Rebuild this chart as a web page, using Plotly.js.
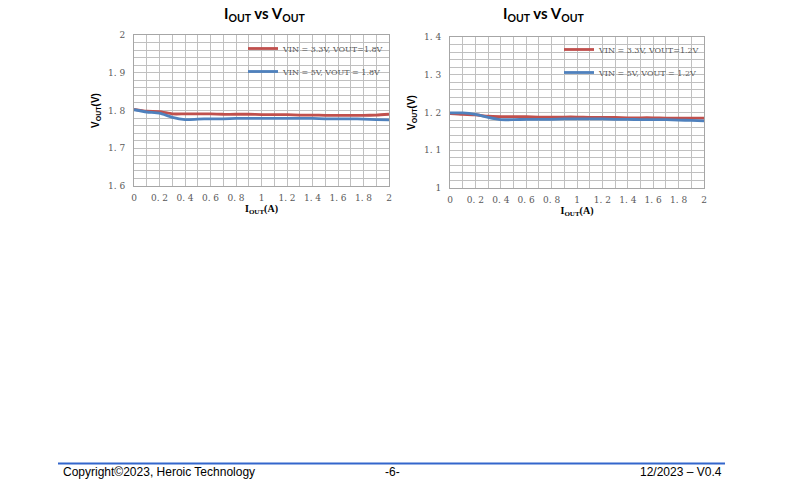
<!DOCTYPE html>
<html>
<head>
<meta charset="utf-8">
<script src="https://cdn.plot.ly/plotly-3.0.1.min.js"></script>
<style>html,body{margin:0;padding:0;background:#fff;}#chart{width:786px;height:485px;}</style>
</head>
<body>
<div id="chart"></div>
<script>
// ---- data ----
const iout = [0,0.1,0.2,0.3,0.4,0.5,0.6,0.7,0.8,0.9,1.0,1.1,1.2,1.3,1.4,1.5,1.6,1.7,1.8,1.9,2.0];

const v18_vin33 = [1.803,1.798,1.797,1.791,1.791,1.791,1.791,1.790,1.790,1.790,1.789,1.789,1.789,1.788,1.788,1.787,1.787,1.787,1.787,1.788,1.790];
const v18_vin5  = [1.802,1.796,1.793,1.782,1.776,1.777,1.778,1.778,1.779,1.779,1.779,1.779,1.779,1.779,1.779,1.778,1.778,1.778,1.777,1.776,1.775];

const v12_vin33 = [1.197,1.195,1.194,1.190,1.189,1.189,1.189,1.188,1.188,1.188,1.188,1.187,1.187,1.187,1.186,1.186,1.186,1.185,1.185,1.185,1.185];
const v12_vin5  = [1.199,1.199,1.195,1.187,1.181,1.181,1.182,1.182,1.182,1.183,1.183,1.183,1.183,1.182,1.182,1.181,1.181,1.181,1.180,1.179,1.178];

const names18 = ["VIN = 3.3V, VOUT=1.8V", "VIN = 5V, VOUT = 1.8V"];
const names12 = ["VIN = 3.3V, VOUT=1.2V", "VIN = 5V, VOUT = 1.2V"];

const xTickVals = [0,0.2,0.4,0.6,0.8,1,1.2,1.4,1.6,1.8,2];
const xTickText = ["0","0. 2","0. 4","0. 6","0. 8","1","1. 2","1. 4","1. 6","1. 8","2"];
const y1TickVals = [1.6,1.7,1.8,1.9,2.0];
const y1TickText = ["1. 6","1. 7","1. 8","1. 9","2"];
const y2TickVals = [1.0,1.1,1.2,1.3,1.4];
const y2TickText = ["1","1. 1","1. 2","1. 3","1. 4"];

const chartTitle = "I<sub>OUT</sub> vs V<sub>OUT</sub>";
const xTitle = "I<sub>OUT</sub>(A)";
const yTitle = "V<sub>OUT</sub>(V)";
const footerLeft = "Copyright©2023, Heroic Technology";
const footerMid = "-6-";
const footerRight = "12/2023 – V0.4";

// ---- styling ----
const RED = "#C0504D", BLUE = "#4F81BD";
const GRID = "#c0c0c0";
const tickFont = {family: "DejaVu Serif, Liberation Serif, serif", size: 9, color: "#595959"};
const legFont = {family: "DejaVu Serif, Liberation Serif, serif", size: 8, color: "#595959"};

function tr(y, name, color, xa, ya, leg, grp) {
  return {x: iout, y: y, name: name, type: "scatter", mode: "lines",
    line: {color: color, width: 2.8, shape: "spline", smoothing: 0.6},
    xaxis: xa, yaxis: ya, legend: leg, legendgroup: grp, hoverinfo: "skip"};
}

const data = [
  tr(v18_vin33, names18[0], RED, "x", "y", "legend", "a"),
  tr(v18_vin5, names18[1], BLUE, "x", "y", "legend", "b"),
  tr(v12_vin33, names12[0], RED, "x2", "y2", "legend2", "c"),
  tr(v12_vin5, names12[1], BLUE, "x2", "y2", "legend2", "d")
];

function xax(domain, anchor) {
  return {domain: domain, anchor: anchor, range: [0, 2], tickvals: xTickVals, ticktext: xTickText,
    showgrid: true, gridcolor: GRID, gridwidth: 1,
    minor: {dtick: 0.1, tick0: 0, showgrid: true, gridcolor: GRID, gridwidth: 1},
    showline: true, linecolor: "#a6a6a6", linewidth: 1, mirror: true, zeroline: false,
    ticks: "", tickfont: tickFont, ticklabelstandoff: 3,
    title: {text: xTitle, font: {family: "Liberation Serif, serif", size: 10, color: "#000", weight: "bold"}, standoff: 3},
    fixedrange: true};
}
function yax(domain, anchor, r, tv, tt) {
  return {domain: domain, anchor: anchor, range: r, tickvals: tv, ticktext: tt,
    showgrid: true, gridcolor: GRID, gridwidth: 1,
    minor: {dtick: 0.02, tick0: r[0], showgrid: true, gridcolor: GRID, gridwidth: 1},
    showline: true, linecolor: "#a6a6a6", linewidth: 1, mirror: true, zeroline: false,
    ticks: "", tickfont: tickFont, ticklabelstandoff: 6,
    title: {text: yTitle, font: {family: "Liberation Sans, Arial, sans-serif", size: 10, color: "#000", weight: "bold"}, standoff: 6},
    fixedrange: true};
}

function legend(x, y) {
  return {x: x, y: y, xanchor: "left", yanchor: "top", bgcolor: "rgba(0,0,0,0)",
    font: legFont, itemwidth: 30, tracegroupgap: 4, borderwidth: 0, traceorder: "grouped",
    itemclick: false, itemdoubleclick: false};
}

const W = 786, H = 485;
const layout = {
  width: W, height: H, margin: {l: 0, r: 0, t: 0, b: 0},
  paper_bgcolor: "#fff", plot_bgcolor: "#fff", showlegend: true,
  xaxis: xax([134/W, 389/W], "y"),
  yaxis: yax([1-186/H, 1-35/H], "x", [1.6, 2.0], y1TickVals, y1TickText),
  xaxis2: xax([450/W, 704/W], "y2"),
  yaxis2: yax([1-188/H, 1-37/H], "x2", [1.0, 1.4], y2TickVals, y2TickText),
  legend: legend(243/W, 1-34/H),
  legend2: legend(559/W, 1-35/H),
  annotations: [
    {text: chartTitle, x: 264/W, y: 1-14/H, xref: "paper", yref: "paper", yanchor: "middle", showarrow: false,
     font: {family: "Lato, Open Sans, sans-serif", size: 15, color: "#000", weight: "bold"}},
    {text: chartTitle, x: 586/W, y: 1-14/H, xref: "paper", yref: "paper", yanchor: "middle", showarrow: false,
     font: {family: "Lato, Open Sans, sans-serif", size: 15, color: "#000", weight: "bold"}},
    {text: footerLeft, x: 61/W, y: 1-472/H, xref: "paper", yref: "paper", xanchor: "left", yanchor: "middle", showarrow: false,
     font: {family: "Liberation Sans, Arial, sans-serif", size: 12, color: "#000"}},
    {text: footerMid, x: 392/W, y: 1-472/H, xref: "paper", yref: "paper", yanchor: "middle", showarrow: false,
     font: {family: "Liberation Sans, Arial, sans-serif", size: 12, color: "#000"}},
    {text: footerRight, x: 724/W, y: 1-472/H, xref: "paper", yref: "paper", xanchor: "right", yanchor: "middle", showarrow: false,
     font: {family: "Liberation Sans, Arial, sans-serif", size: 12, color: "#000"}}
  ],
  shapes: [
    {type: "line", xref: "paper", yref: "paper", x0: 58/W, x1: 725/W, y0: 1-463.5/H, y1: 1-463.5/H,
     line: {color: "#3366CC", width: 2}}
  ]
};

Plotly.newPlot("chart", data, layout, {staticPlot: true, displayModeBar: false});
</script>
</body>
</html>
